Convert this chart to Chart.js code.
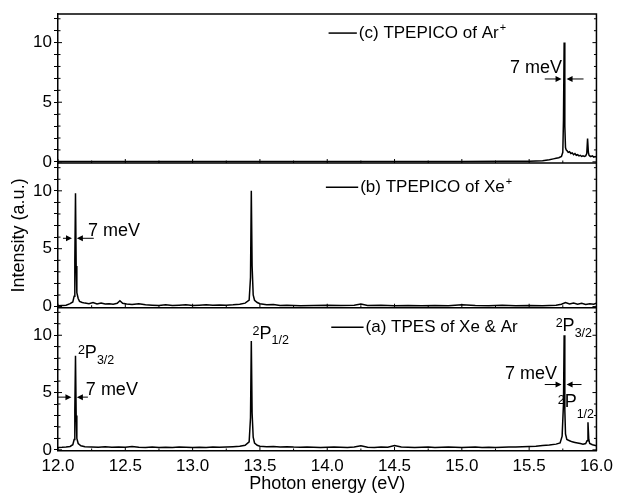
<!DOCTYPE html>
<html lang="en">
<head>
<meta charset="UTF-8">
<title>TPES / TPEPICO spectra</title>
<script src="https://cdn.jsdelivr.net/npm/chart.js"></script>
<style>
  html, body { margin: 0; padding: 0; background: #fff; }
  .wrap { width: 618px; height: 495px; }
</style>
</head>
<body>
<div class="wrap"><canvas id="chart"></canvas></div>
<script>
// (c) TPEPICO of Ar+ : photon energy (eV) and intensity (a.u.)
const energyAr = [
  12.00, 12.50, 13.00, 13.50, 14.00, 14.50, 15.00, 15.30, 15.50, 15.60,
  15.65, 15.68, 15.70, 15.72, 15.74, 15.75, 15.755, 15.760, 15.765, 15.77,
  15.775, 15.78, 15.79, 15.80, 15.81, 15.82, 15.83, 15.84, 15.85, 15.86,
  15.87, 15.88, 15.89, 15.90, 15.91, 15.92, 15.928, 15.934, 15.94, 15.945,
  15.95, 15.96, 15.97, 15.98, 15.99, 16.00
];
const intensityAr = [
  0.02, 0.02, 0.03, 0.02, 0.03, 0.02, 0.03, 0.04, 0.06, 0.10,
  0.18, 0.25, 0.30, 0.35, 0.45, 0.80, 3.50, 10.0, 3.00, 1.20,
  1.00, 0.95, 0.80, 0.85, 0.70, 0.75, 0.60, 0.70, 0.55, 0.60,
  0.50, 0.55, 0.45, 0.50, 0.45, 0.50, 0.70, 1.95, 0.80, 0.55,
  0.50, 0.45, 0.50, 0.40, 0.45, 0.40
];

// (b) TPEPICO of Xe+
const energyXe = [
  12.00, 12.03, 12.06, 12.09, 12.11, 12.12, 12.125, 12.130, 12.135, 12.14,
  12.15, 12.16, 12.18, 12.20, 12.23, 12.26, 12.29, 12.32, 12.35, 12.38,
  12.41, 12.44, 12.46, 12.48, 12.51, 12.55, 12.60, 12.65, 12.70, 12.75,
  12.80, 12.85, 12.90, 12.95, 13.00, 13.05, 13.10, 13.15, 13.20, 13.25,
  13.30, 13.35, 13.39, 13.42, 13.43, 13.436, 13.442, 13.45, 13.46, 13.48,
  13.50, 13.55, 13.60, 13.65, 13.70, 13.80, 13.90, 14.00, 14.10, 14.20,
  14.25, 14.30, 14.40, 14.50, 14.60, 14.70, 14.80, 14.90, 15.00, 15.10,
  15.20, 15.30, 15.40, 15.50, 15.60, 15.70, 15.74, 15.77, 15.80, 15.83,
  15.86, 15.89, 15.92, 15.95, 15.98, 16.00
];
const intensityXe = [
  0.08, 0.10, 0.12, 0.25, 0.40, 0.90, 4.00, 9.80, 3.50, 1.20,
  0.70, 0.45, 0.35, 0.30, 0.25, 0.35, 0.22, 0.30, 0.22, 0.25,
  0.20, 0.28, 0.50, 0.28, 0.22, 0.18, 0.25, 0.15, 0.12, 0.10,
  0.15, 0.10, 0.12, 0.15, 0.10, 0.12, 0.15, 0.12, 0.14, 0.12,
  0.15, 0.20, 0.30, 0.55, 2.50, 10.0, 3.50, 1.00, 0.55, 0.35,
  0.25, 0.15, 0.18, 0.10, 0.12, 0.08, 0.10, 0.12, 0.10, 0.12,
  0.22, 0.10, 0.12, 0.08, 0.10, 0.08, 0.10, 0.08, 0.15, 0.10,
  0.08, 0.12, 0.08, 0.10, 0.08, 0.12, 0.20, 0.35, 0.22, 0.30,
  0.20, 0.28, 0.18, 0.25, 0.20, 0.30
];

// (a) TPES of Xe & Ar
const energyTpes = [
  12.00, 12.03, 12.06, 12.09, 12.11, 12.12, 12.125, 12.130, 12.135, 12.14,
  12.15, 12.17, 12.20, 12.25, 12.30, 12.35, 12.40, 12.45, 12.50, 12.55,
  12.60, 12.65, 12.70, 12.75, 12.80, 12.85, 12.90, 12.95, 13.00, 13.05,
  13.10, 13.15, 13.20, 13.25, 13.30, 13.35, 13.39, 13.42, 13.43, 13.436,
  13.442, 13.45, 13.46, 13.48, 13.50, 13.55, 13.60, 13.65, 13.70, 13.75,
  13.80, 13.85, 13.90, 13.95, 14.00, 14.05, 14.10, 14.15, 14.20, 14.25,
  14.30, 14.35, 14.40, 14.45, 14.50, 14.55, 14.60, 14.65, 14.70, 14.75,
  14.80, 14.85, 14.90, 14.95, 15.00, 15.05, 15.10, 15.15, 15.20, 15.25,
  15.30, 15.35, 15.40, 15.45, 15.50, 15.55, 15.60, 15.65, 15.70, 15.73,
  15.745, 15.755, 15.760, 15.765, 15.77, 15.78, 15.80, 15.82, 15.84, 15.86,
  15.88, 15.90, 15.92, 15.93, 15.937, 15.943, 15.95, 15.97, 16.00
];
const intensityTpes = [
  0.20, 0.22, 0.25, 0.30, 0.45, 0.90, 3.50, 8.20, 3.00, 1.00,
  0.55, 0.35, 0.28, 0.25, 0.22, 0.26, 0.22, 0.25, 0.22, 0.30,
  0.22, 0.20, 0.24, 0.20, 0.22, 0.20, 0.24, 0.22, 0.20, 0.22,
  0.20, 0.24, 0.22, 0.25, 0.28, 0.32, 0.40, 0.70, 2.80, 9.50,
  3.20, 1.10, 0.60, 0.40, 0.32, 0.28, 0.30, 0.25, 0.28, 0.24,
  0.22, 0.25, 0.22, 0.20, 0.22, 0.25, 0.22, 0.20, 0.24, 0.35,
  0.22, 0.20, 0.24, 0.22, 0.38, 0.24, 0.22, 0.20, 0.22, 0.24,
  0.20, 0.22, 0.25, 0.22, 0.20, 0.22, 0.24, 0.20, 0.22, 0.20,
  0.22, 0.24, 0.25, 0.28, 0.30, 0.32, 0.38, 0.42, 0.50, 0.60,
  1.20, 4.00, 10.0, 3.50, 1.40, 0.90, 0.80, 0.70, 0.65, 0.60,
  0.55, 0.50, 0.55, 0.80, 2.40, 0.90, 0.55, 0.45, 0.35
];

const xTickLabels = [12.0, 12.5, 13.0, 13.5, 14.0, 14.5, 15.0, 15.5, 16.0];
const yTickLabels = [0, 5, 10];

const FONT = "'Liberation Sans', Arial, sans-serif";

// text overlays, placed in data coordinates of each panel
const legendItems = [
  { axis: 'yC', x0: 14.01, x1: 14.22, y: 10.8, text: '(c) TPEPICO of Ar', sup: '+' },
  { axis: 'yB', x0: 13.99, x1: 14.23, y: 10.3, text: '(b) TPEPICO of Xe', sup: '+' },
  { axis: 'yA', x0: 14.03, x1: 14.27, y: 10.7, text: '(a) TPES of Xe & Ar', sup: '' }
];
const widthMarks = [
  { axis: 'yC', y: 6.95, left: [15.616, 15.741], right: [15.904, 15.778], tx: 15.357, ty: 7.45 },
  { axis: 'yB', y: 5.9, left: [12.037, 12.104], right: [12.266, 12.140], tx: 12.222, ty: 6.1 },
  { axis: 'yA', y: 4.6, left: [12.0, 12.100], right: [12.222, 12.140], tx: 12.207, ty: 4.8 },
  { axis: 'yA', y: 5.7, left: [15.616, 15.741], right: [15.889, 15.778], tx: 15.320, ty: 6.15 }
];
const termLabels = [
  { axis: 'yA', x: 12.148, y: 8.0, j: '3/2', up: 4, drop: 6 },
  { axis: 'yA', x: 13.445, y: 9.7, j: '1/2', up: 4, drop: 5 },
  { axis: 'yA', x: 15.697, y: 10.4, j: '3/2', up: 4, drop: 6 },
  { axis: 'yA', x: 15.712, y: 3.7, j: '1/2', up: 3, drop: 11 }
];

function arrow(ctx, xFrom, xTo, y) {
  const dir = xTo > xFrom ? 1 : -1;
  ctx.beginPath();
  ctx.moveTo(xFrom, y);
  ctx.lineTo(xTo - dir * 4, y);
  ctx.stroke();
  ctx.beginPath();
  ctx.moveTo(xTo, y);
  ctx.lineTo(xTo - dir * 6, y - 3);
  ctx.lineTo(xTo - dir * 6, y + 3);
  ctx.closePath();
  ctx.fill();
}

const panelDecor = {
  id: 'panelDecor',
  afterDraw(chart) {
    const { ctx, chartArea: area, scales } = chart;
    const sx = scales.x;
    ctx.save();
    ctx.strokeStyle = '#000';
    ctx.fillStyle = '#000';

    // frame: top, right and the lines between panels
    ctx.lineWidth = 1.5;
    ctx.beginPath();
    ctx.moveTo(area.left, area.top);
    ctx.lineTo(area.right, area.top);
    ctx.lineTo(area.right, area.bottom);
    ['yC', 'yB'].forEach(id => {
      ctx.moveTo(area.left, scales[id].bottom);
      ctx.lineTo(area.right, scales[id].bottom);
    });
    ctx.stroke();

    // inward tick marks on every panel
    ctx.lineWidth = 1;
    ctx.beginPath();
    ['yC', 'yB', 'yA'].forEach(id => {
      const s = scales[id];
      s.ticks.forEach(t => {
        const py = s.getPixelForValue(t.value);
        const len = yTickLabels.includes(t.value) ? 4 : 2.5;
        ctx.moveTo(area.left, py); ctx.lineTo(area.left + len, py);
        ctx.moveTo(area.right, py); ctx.lineTo(area.right - len, py);
      });
      sx.ticks.forEach(t => {
        const px = sx.getPixelForValue(t.value);
        const len = xTickLabels.includes(t.value) ? 4 : 2.5;
        ctx.moveTo(px, s.bottom); ctx.lineTo(px, s.bottom - len);
      });
    });
    ctx.stroke();

    // legend entries
    ctx.textBaseline = 'middle';
    ctx.textAlign = 'left';
    legendItems.forEach(it => {
      const s = scales[it.axis];
      const py = s.getPixelForValue(it.y);
      const x0 = sx.getPixelForValue(it.x0), x1 = sx.getPixelForValue(it.x1);
      ctx.lineWidth = 1.5;
      ctx.beginPath(); ctx.moveTo(x0, py); ctx.lineTo(x1, py); ctx.stroke();
      ctx.font = '17px ' + FONT;
      ctx.fillText(it.text, x1 + 2, py);
      if (!it.sup) return;
      const w = ctx.measureText(it.text).width;
      ctx.font = '11px ' + FONT;
      ctx.fillText(it.sup, x1 + 3 + w, py - 5);
    });

    // 7 meV width markers
    ctx.textBaseline = 'alphabetic';
    ctx.lineWidth = 1;
    widthMarks.forEach(m => {
      const s = scales[m.axis];
      const py = s.getPixelForValue(m.y);
      arrow(ctx, sx.getPixelForValue(m.left[0]), sx.getPixelForValue(m.left[1]), py);
      arrow(ctx, sx.getPixelForValue(m.right[0]), sx.getPixelForValue(m.right[1]), py);
      ctx.font = '18px ' + FONT;
      ctx.fillText('7 meV', sx.getPixelForValue(m.tx), s.getPixelForValue(m.ty));
    });

    // spin-orbit state labels 2P3/2, 2P1/2
    termLabels.forEach(l => {
      const s = scales[l.axis];
      let px = sx.getPixelForValue(l.x);
      const py = s.getPixelForValue(l.y);
      ctx.font = '12.5px ' + FONT;
      ctx.fillText('2', px, py - l.up);
      px += ctx.measureText('2').width;
      ctx.font = '18px ' + FONT;
      ctx.fillText('P', px, py);
      px += ctx.measureText('P').width;
      ctx.font = '12.5px ' + FONT;
      ctx.fillText(l.j, px, py + l.drop);
    });
    ctx.restore();
  }
};

function series(energy, intensity, axis) {
  return {
    data: energy.map((e, i) => ({ x: e, y: intensity[i] })),
    yAxisID: axis,
    borderColor: '#000',
    borderWidth: 1.5,
    pointRadius: 0,
    tension: 0,
    fill: false
  };
}

function panelAxis(title, weight) {
  return {
    type: 'linear',
    position: 'left',
    stack: 'panels',
    stackWeight: weight,
    min: -0.1,
    max: 12.4,
    border: { display: true, color: '#000', width: 1.5 },
    grid: { drawOnChartArea: false, drawTicks: true, tickLength: 4, color: '#000' },
    ticks: {
      stepSize: 1,
      includeBounds: false,
      autoSkip: false,
      padding: 2,
      color: '#000',
      font: { family: FONT, size: 17 },
      callback: v => yTickLabels.includes(v) ? String(v) : ''
    },
    title: {
      display: !!title,
      text: title || '',
      color: '#000',
      font: { family: FONT, size: 18 },
      padding: { top: 8, bottom: 0 }
    },
    afterFit: s => { s.width = 58; }
  };
}

new Chart(document.getElementById('chart'), {
  type: 'line',
  data: {
    datasets: [
      series(energyAr, intensityAr, 'yC'),
      series(energyXe, intensityXe, 'yB'),
      series(energyTpes, intensityTpes, 'yA')
    ]
  },
  options: {
    responsive: true,
    maintainAspectRatio: false,
    animation: false,
    layout: { padding: { top: 14, right: 20, left: 0, bottom: 0 } },
    plugins: { legend: { display: false }, tooltip: { enabled: false } },
    scales: {
      x: {
        type: 'linear',
        position: 'bottom',
        min: 12,
        max: 16,
        border: { display: true, color: '#000', width: 1.5 },
        grid: { drawOnChartArea: false, drawTicks: false },
        ticks: {
          stepSize: 0.25,
          autoSkip: false,
          maxRotation: 0,
          padding: 5,
          color: '#000',
          font: { family: FONT, size: 17 },
          callback: v => xTickLabels.includes(v) ? v.toFixed(1) : ''
        },
        title: {
          display: true,
          text: 'Photon energy (eV)',
          color: '#000',
          font: { family: FONT, size: 18 },
          padding: { top: 0, bottom: 0 }
        },
        afterFit: s => { s.height = 44; }
      },
      // stacked panels: the first one listed sits at the bottom
      yA: panelAxis('', 0.99),
      yB: panelAxis('Intensity (a.u.)', 1.0),
      yC: panelAxis('', 1.03)
    }
  },
  plugins: [panelDecor]
});
</script>
</body>
</html>
